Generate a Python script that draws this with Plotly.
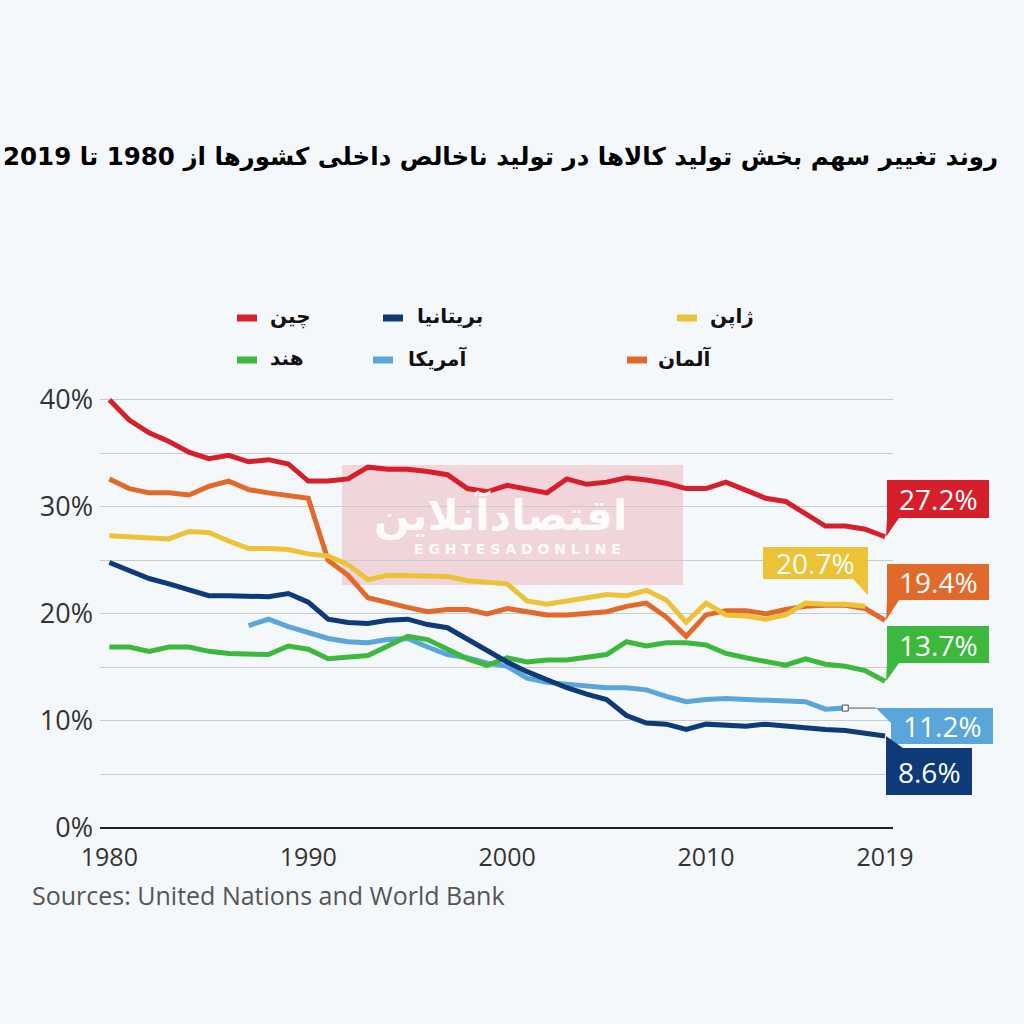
import plotly.graph_objects as go

# ---------------- data ----------------
years = list(range(1980, 2020))
china = [40.0, 38.1, 36.9, 36.1, 35.1, 34.5, 34.8, 34.2, 34.4, 34.0,
         32.4, 32.4, 32.6, 33.7, 33.5, 33.5, 33.3, 33.0, 31.7, 31.4,
         32.0, 31.6, 31.3, 32.6, 32.1, 32.3, 32.7, 32.5, 32.2, 31.7,
         31.7, 32.3, 31.6, 30.8, 30.5, 29.3, 28.2, 28.2, 27.9, 27.2]
germany = [32.6, 31.7, 31.3, 31.3, 31.1, 31.9, 32.4, 31.6, 31.3, 31.0,
           30.8, 25.0, 23.6, 21.5, 21.0, 20.6, 20.2, 20.4, 20.4, 20.0,
           20.5, 20.2, 19.9, 19.9, 20.0, 20.2, 20.7, 21.0, 19.7, 17.9,
           19.9, 20.3, 20.3, 20.0, 20.4, 20.7, 20.8, 20.8, 20.5, 19.4]
japan_years = list(range(1980, 2019))
japan = [27.3, 27.2, 27.2, 27.0, 27.7, 27.6, 26.8, 26.1, 26.1, 26.0,
         25.6, 25.4, 24.6, 23.2, 23.6, 23.6, 23.5, 23.5, 23.1, 23.0,
         22.8, 21.2, 20.9, 21.2, 21.5, 21.8, 21.7, 22.2, 21.3, 19.2,
         21.0, 19.9, 19.8, 19.5, 19.9, 21.0, 20.9, 20.9, 20.7]
uk = [24.8, 24.0, 23.3, 22.8, 22.3, 21.7, 21.7, 21.6, 21.6, 21.9,
      21.1, 19.5, 19.2, 19.1, 19.4, 19.5, 19.0, 18.7, 17.6, 16.6,
      15.5, 14.6, 13.8, 13.1, 12.5, 12.0, 10.5, 9.8, 9.7, 9.2,
      9.7, 9.6, 9.5, 9.7, 9.5, 9.4, 9.2, 9.1, 8.9, 8.6]
us_years = list(range(1987, 2018))
us = [18.9, 19.5, 18.8, 18.2, 17.7, 17.4, 17.3, 17.6, 17.7, 16.9,
      16.2, 15.9, 15.4, 15.1, 14.0, 13.6, 13.4, 13.3, 13.1, 13.1,
      12.9, 12.3, 11.8, 12.0, 12.1, 12.0, 11.9, 11.8, 11.8, 11.1, 11.2]
india = [16.9, 16.9, 16.5, 16.9, 16.9, 16.5, 16.3, 16.3, 16.2, 17.0,
         16.7, 15.8, 15.9, 16.1, 17.0, 17.9, 17.6, 16.7, 15.8, 15.2,
         15.9, 15.5, 15.7, 15.7, 15.9, 16.2, 17.4, 17.0, 17.3, 17.3,
         17.1, 16.3, 15.9, 15.5, 15.2, 15.8, 15.3, 15.1, 14.7, 13.7]

names = {"china": "چین", "uk": "بریتانیا", "japan": "ژاپن",
         "india": "هند", "us": "آمریکا", "germany": "آلمان"}
colors = {"china": "#d71f2b", "uk": "#0e3b78", "japan": "#ecc236",
          "india": "#3cb83c", "us": "#5aa6db", "germany": "#e2692c"}

x_ticks = [1980, 1990, 2000, 2010, 2019]
y_ticks = [0, 5, 10, 15, 20, 25, 30, 35, 40]
y_ticktext = ["0%", "", "10%", "", "20%", "", "30%", "", "40%"]

title_text = "روند تغییر سهم بخش تولید کالاها در تولید ناخالص داخلی کشورها از 1980 تا 2019"
source_text = "Sources: United Nations and World Bank"

# ---------------- frame ----------------
W = H = 1024
L, R, T, B = 100, 893, 389, 828
XR = [1979.53, 2019.4]
YR = [0, 41]
BG = "#f5f8fb"


def xpx(v):
    return L + (v - XR[0]) / (XR[1] - XR[0]) * (R - L)


def ypx(v):
    return B - (v - YR[0]) / (YR[1] - YR[0]) * (B - T)


def pxp(p):
    return (p - L) / (R - L)


def pyp(p):
    return (B - p) / (B - T)


def path(points):
    return "M " + " L ".join(f"{pxp(a):.5f},{pyp(b):.5f}" for a, b in points) + " Z"


def note(px, py, text, font, xanchor="center", yanchor="middle"):
    return dict(xref="paper", yref="paper", x=pxp(px), y=pyp(py), text=text,
                showarrow=False, xanchor=xanchor, yanchor=yanchor, font=font)


fig = go.Figure()

series = [
    ("us", us_years, us),
    ("india", years, india),
    ("uk", years, uk),
    ("germany", years, germany),
    ("japan", japan_years, japan),
    ("china", years, china),
]
for key, xs, ys in series:
    fig.add_trace(go.Scatter(x=xs, y=ys, mode="lines", name=names[key],
                             line=dict(color=colors[key], width=5),
                             showlegend=False, hoverinfo="skip"))

# US end marker
fig.add_trace(go.Scatter(x=[us_years[-1]], y=[us[-1]], mode="markers",
                         marker=dict(symbol="square", size=6, color="white",
                                     line=dict(color="#444", width=1)),
                         showlegend=False, hoverinfo="skip"))

shapes = []
annotations = []

# watermark
shapes.append(dict(type="rect", xref="paper", yref="paper",
                   x0=pxp(342), x1=pxp(683), y0=pyp(585), y1=pyp(465),
                   fillcolor="rgba(236,170,178,0.45)", line=dict(width=0),
                   layer="below"))
annotations.append(note(500, 515, "<b>اقتصادآنلاین</b>",
                        dict(family="DejaVu Sans", size=42, color="rgba(255,255,255,0.92)")))
annotations.append(note(517, 549, "<b>E G H T E S A D O N L I N E</b>",
                        dict(family="DejaVu Sans", size=14, color="rgba(255,255,255,0.92)")))

# connector for US label
shapes.append(dict(type="line", xref="paper", yref="paper",
                   x0=pxp(xpx(us_years[-1]) + 4), x1=pxp(876),
                   y0=pyp(ypx(us[-1])), y1=pyp(ypx(us[-1])),
                   line=dict(color="#555", width=1)))


def tip(xs, ys):
    return (xpx(xs[-1]), ypx(ys[-1]))


lab_font = dict(family="Open Sans", size=28, color="white")

cx, cy = tip(years, china)
shapes.append(dict(type="path", xref="paper", yref="paper", line=dict(width=0),
                   fillcolor=colors["china"],
                   path=path([(887, 480), (989, 480), (989, 518), (899, 518), (cx + 1, cy), (887, 518)])))
annotations.append(note(938, 499, f"{china[-1]}%", lab_font))

gx, gy = tip(years, germany)
shapes.append(dict(type="path", xref="paper", yref="paper", line=dict(width=0),
                   fillcolor=colors["germany"],
                   path=path([(887, 564), (989, 564), (989, 600), (899, 600), (gx + 1, gy), (887, 600)])))
annotations.append(note(938, 582, f"{germany[-1]}%", lab_font))

ix, iy = tip(years, india)
shapes.append(dict(type="path", xref="paper", yref="paper", line=dict(width=0),
                   fillcolor=colors["india"],
                   path=path([(887, 626), (989, 626), (989, 663), (899, 663), (ix + 1, iy), (887, 663)])))
annotations.append(note(938, 644.5, f"{india[-1]}%", lab_font))

ux, uy = tip(us_years, us)
shapes.append(dict(type="path", xref="paper", yref="paper", line=dict(width=0),
                   fillcolor=colors["us"],
                   path=path([(876, uy), (993, uy), (993, uy + 36), (891, uy + 36), (891, uy + 15)])))
annotations.append(note(942, uy + 18, f"{us[-1]}%", lab_font))

bx, by = tip(years, uk)
shapes.append(dict(type="path", xref="paper", yref="paper", line=dict(width=0),
                   fillcolor=colors["uk"],
                   path=path([(bx + 1, by), (903, 748), (972, 748), (972, 795), (886, 795)])))
annotations.append(note(929, 772, f"{uk[-1]}%", lab_font))

jx, jy = tip(japan_years, japan)
shapes.append(dict(type="path", xref="paper", yref="paper", line=dict(width=0),
                   fillcolor=colors["japan"],
                   path=path([(763, 547), (868, 547), (868, jy - 11), (853, 579), (763, 579)])))
annotations.append(note(815.5, 563, f"{japan[-1]}%", lab_font))

# custom legend
legend_items = [
    ("china", 237, 268, 318),
    ("uk", 383, 415, 318),
    ("japan", 677, 708, 318),
    ("india", 237, 268, 360),
    ("us", 373, 406, 360),
    ("germany", 627, 656, 360),
]
for key, sx, tx, yy in legend_items:
    shapes.append(dict(type="line", xref="paper", yref="paper",
                       x0=pxp(sx), x1=pxp(sx + 20), y0=pyp(yy), y1=pyp(yy),
                       line=dict(color=colors[key], width=7)))
    annotations.append(note(tx, yy - 2, f"<b>{names[key]}</b>",
                            dict(family="DejaVu Sans", size=20, color="#111"),
                            xanchor="left"))

# title and source
annotations.append(note(1000, 157, f"<b>{title_text}</b>",
                        dict(family="DejaVu Sans", size=24.5, color="#000"),
                        xanchor="right"))
annotations.append(note(30, 895, source_text,
                        dict(family="Open Sans", size=25, color="#555"),
                        xanchor="left"))

fig.update_layout(
    width=W, height=H, autosize=False,
    margin=dict(l=L, r=W - R, t=T, b=H - B, pad=0),
    paper_bgcolor=BG, plot_bgcolor=BG,
    shapes=shapes, annotations=annotations,
    showlegend=False,
    xaxis=dict(range=XR, tickvals=x_ticks, showgrid=False, zeroline=False,
               showline=False, ticks="", ticklabelstandoff=12,
               tickfont=dict(family="Open Sans", size=25, color="#333")),
    yaxis=dict(range=YR, tickvals=y_ticks, ticktext=y_ticktext, showgrid=True,
               gridcolor="#cbcbcb", gridwidth=1, zeroline=True, zerolinecolor="#222",
               zerolinewidth=1.5, showline=False, ticks="", ticklabelstandoff=6,
               tickfont=dict(family="Open Sans", size=27, color="#333")),
)

fig.write_html("out.html", config={"displayModeBar": False},
               post_script="document.body.style.margin='0';")
